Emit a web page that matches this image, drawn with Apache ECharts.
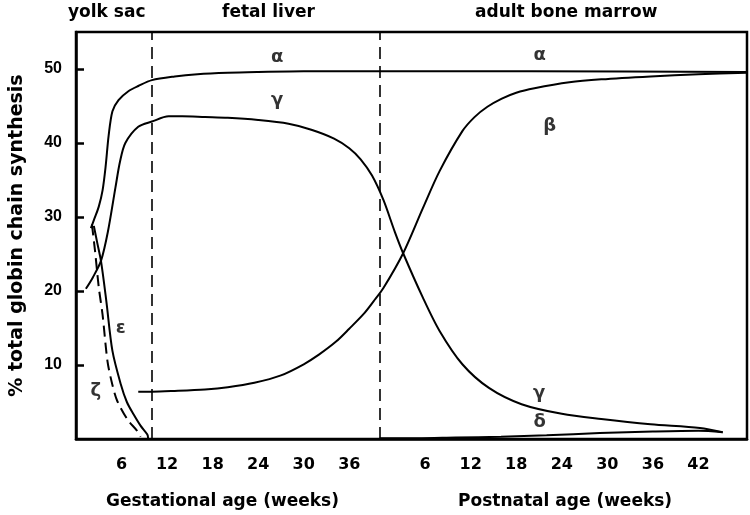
<!DOCTYPE html>
<html>
<head>
<meta charset="utf-8">
<script src="https://cdn.jsdelivr.net/npm/echarts@6/dist/echarts.min.js"></script>
<style>
  html, body { margin: 0; padding: 0; background: #fff; }
  #chart { width: 750px; height: 515px; }
</style>
</head>
<body>
<div id="chart"></div>
<script>
// weeks are counted from conception; birth sits at week 40
var birthWeek = 40;
var xTickWeeks = [6, 12, 18, 24, 30, 36, 46, 52, 58, 64, 70, 76, 82];
var yTicks = [10, 20, 30, 40, 50];
var boundaryWeeks = [10, 40];

var alphaX = [1.96, 2.4, 3.0, 3.5, 3.9, 4.3, 4.8, 5.6, 6.9, 8.2, 10, 13, 16, 20, 24, 30, 60, 88.4];
var alphaY = [28.5, 29.7, 31.4, 33.6, 36.8, 41.0, 44.3, 45.8, 47.0, 47.7, 48.5, 49.0, 49.3, 49.5, 49.6, 49.7, 49.7, 49.6];

var gammaX = [1.3, 2.2, 3.3, 4.2, 5.2, 5.8, 6.5, 8.2, 10, 12.2, 14, 17, 20, 24, 28, 31, 34, 36, 37.5, 39, 40.5, 42, 43.1, 45.7, 47.9, 50.9, 54.4, 58.7, 64, 69.2, 75.7, 82.2, 85.2];
var gammaY = [20.3, 21.8, 24.1, 28.0, 34.0, 37.5, 40.0, 42.2, 42.9, 43.6, 43.6, 43.5, 43.4, 43.1, 42.6, 41.8, 40.6, 39.3, 37.8, 35.6, 32.3, 28.0, 25.1, 19.1, 14.6, 10.1, 6.9, 4.7, 3.4, 2.7, 2.0, 1.5, 0.9];

var betaX = [8.2, 10, 13, 17, 20, 23.5, 27, 30, 32, 34.3, 36, 37.9, 39.2, 40.5, 43.1, 45.7, 47.9, 50.9, 52.5, 54.2, 56.1, 58, 60.4, 65, 69.2, 75.7, 82, 88.4];
var betaY = [6.4, 6.4, 6.5, 6.7, 7.0, 7.6, 8.6, 10.1, 11.4, 13.2, 14.9, 16.9, 18.6, 20.4, 25.1, 31.2, 36.2, 41.6, 43.5, 44.9, 46.0, 46.8, 47.4, 48.2, 48.6, 49.0, 49.3, 49.5];

var epsilonX = [2.35, 2.8, 3.3, 4.0, 4.8, 5.9, 6.7, 7.6, 8.5, 9.4, 9.5];
var epsilonY = [28.8, 26.5, 24.0, 18.6, 11.9, 7.4, 5.0, 3.3, 1.8, 0.6, 0.1];

var zetaX = [2.1, 2.5, 3.0, 3.5, 4.15, 4.8, 5.45, 6.8, 8.05, 8.5];
var zetaY = [29.0, 25.5, 20.5, 16.8, 10.5, 7.3, 5.1, 2.6, 1.1, 0.3];

var deltaX = [40, 45, 50, 56, 62, 69, 76, 82, 85.2];
var deltaY = [0.1, 0.1, 0.2, 0.3, 0.5, 0.8, 1.0, 1.1, 0.9];

var greekNames = ['α', 'α', 'γ', 'β', 'γ', 'δ', 'ε', 'ζ'];
var greekX = [26.5, 61.1, 26.5, 62.4, 61.0, 61.1, 5.9, 2.6];
var greekY = [51.6, 51.8, 45.7, 42.3, 6.2, 2.2, 15.0, 6.5];

function pairs(xs, ys) {
  var out = [];
  for (var i = 0; i < xs.length; i++) out.push([xs[i], ys[i]]);
  return out;
}

function curve(name, xs, ys, dashed) {
  return {
    name: name,
    type: 'line',
    data: pairs(xs, ys),
    smooth: 0.3,
    showSymbol: false,
    silent: true,
    lineStyle: { color: '#000', width: 2, type: dashed ? [11, 6] : 'solid' }
  };
}

var greekData = [];
for (var i = 0; i < greekNames.length; i++) {
  greekData.push({ name: greekNames[i], value: [greekX[i], greekY[i]] });
}

var boldFont = 'DejaVu Sans';
var chart = echarts.init(document.getElementById('chart'));

var series = [
  curve('alpha', alphaX, alphaY),
  curve('gamma', gammaX, gammaY),
  curve('beta', betaX, betaY),
  curve('epsilon', epsilonX, epsilonY),
  curve('zeta', zetaX, zetaY, true),
  curve('delta', deltaX, deltaY)
];
// dashed boundaries between the haematopoietic sites
series[0].markLine = {
  silent: true,
  symbol: 'none',
  label: { show: false },
  lineStyle: { color: '#000', width: 1.6, type: [12, 7] },
  data: boundaryWeeks.map(function (w) { return { xAxis: w }; })
};
series.push({
  type: 'scatter',
  symbolSize: 0,
  silent: true,
  data: greekData,
  label: {
    show: true,
    position: 'inside',
    formatter: '{b}',
    color: '#000',
    fontFamily: boldFont,
    fontWeight: 'bold',
    fontSize: 18
  }
});

chart.setOption({
  animation: false,
  grid: {
    left: 70, right: 3, top: 32, bottom: 76,
    show: true, borderColor: '#000', borderWidth: 2.5
  },
  xAxis: {
    type: 'value',
    min: 0,
    max: 88.4,
    axisLine: { show: true, lineStyle: { color: '#000', width: 2.5 } },
    axisTick: { show: false },
    splitLine: { show: false },
    axisLabel: {
      customValues: xTickWeeks,
      margin: 18,
      color: '#000',
      fontFamily: boldFont,
      fontWeight: 'bold',
      fontSize: 16,
      formatter: function (v) { return v > birthWeek ? String(v - birthWeek) : String(v); }
    }
  },
  yAxis: {
    type: 'value',
    min: 0,
    max: 55,
    name: '% total globin chain synthesis',
    nameLocation: 'middle',
    nameRotate: 90,
    nameGap: 49,
    nameTextStyle: { color: '#000', fontFamily: boldFont, fontWeight: 'bold', fontSize: 19 },
    axisLine: { show: true, lineStyle: { color: '#000', width: 2.5 } },
    axisTick: { show: true, inside: true, length: 8, customValues: yTicks, lineStyle: { color: '#000', width: 2.5 } },
    splitLine: { show: false },
    axisLabel: {
      customValues: yTicks,
      margin: 14,
      color: '#000',
      fontFamily: 'Liberation Sans',
      fontWeight: 'bold',
      fontSize: 16
    }
  },
  graphic: [
    { type: 'text', left: 68, top: 4, style: { text: 'yolk sac', fill: '#000', font: 'bold 17px "DejaVu Sans"' } },
    { type: 'text', left: 222, top: 4, style: { text: 'fetal liver', fill: '#000', font: 'bold 17px "DejaVu Sans"' } },
    { type: 'text', left: 475, top: 4, style: { text: 'adult bone marrow', fill: '#000', font: 'bold 17px "DejaVu Sans"' } },
    { type: 'text', left: 106, top: 493, style: { text: 'Gestational age (weeks)', fill: '#000', font: 'bold 17px "DejaVu Sans"' } },
    { type: 'text', left: 458, top: 493, style: { text: 'Postnatal age (weeks)', fill: '#000', font: 'bold 17px "DejaVu Sans"' } }
  ],
  series: series
});
</script>
</body>
</html>
